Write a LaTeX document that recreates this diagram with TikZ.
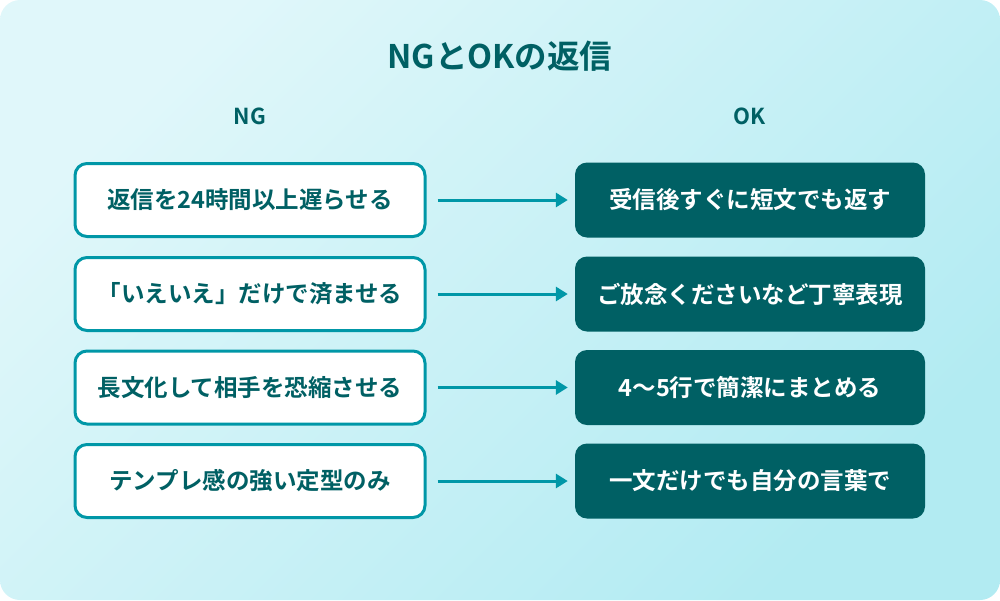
\documentclass[tikz,border=0pt]{standalone}
\usepackage{fontspec}
\setmainfont{Noto Sans CJK JP}[BoldFont={Noto Sans CJK JP Bold}]
\usetikzlibrary{arrows.meta}
\definecolor{bgA}{HTML}{E0F7FA}
\definecolor{bgB}{HTML}{B2EBF2}
\definecolor{darkteal}{HTML}{006064}
\definecolor{teal}{HTML}{0097A7}
\tikzset{
  ngbox/.style={draw=teal, line width=3pt, fill=white, rounded corners=12pt,
    minimum width=350pt, minimum height=73pt, inner sep=0pt,
    text=darkteal, font=\bfseries\fontsize{23.5}{26}\selectfont},
  okbox/.style={fill=darkteal, rounded corners=12pt, draw=none,
    minimum width=350pt, minimum height=75pt, inner sep=0pt,
    text=white, font=\bfseries\fontsize{23.5}{26}\selectfont},
  head/.style={text=darkteal, font=\bfseries\fontsize{22}{26}\selectfont, inner sep=0pt},
  conn/.style={draw=teal, line width=3pt, -{Triangle[length=12pt,width=14pt]},
    shorten <=11pt, shorten >=7pt}
}
\begin{document}
\begin{tikzpicture}[x=1pt,y=-1pt]
\useasboundingbox (0,0) rectangle (1000,600);
\shade[rounded corners=20pt, top color=bgA, bottom color=bgB, shading angle=45]
  (0,0) rectangle (1000,600);
\node[text=darkteal, font=\bfseries\fontsize{32.5}{38}\selectfont, inner sep=0pt] (title) at (500,56) {NGとOKの返信};
\node[head] (hng) at (250,116) {NG};
\node[head] (hok) at (750,116) {OK};
\node[ngbox] (l1) at (250,200) {返信を24時間以上遅らせる};
\node[ngbox] (l2) at (250,294) {「いえいえ」だけで済ませる};
\node[ngbox] (l3) at (250,387.5) {長文化して相手を恐縮させる};
\node[ngbox] (l4) at (250,481) {テンプレ感の強い定型のみ};
\node[okbox] (r1) at (750,200) {受信後すぐに短文でも返す};
\node[okbox] (r2) at (750,294) {ご放念くださいなど丁寧表現};
\node[okbox] (r3) at (750,387.5) {4〜5行で簡潔にまとめる};
\node[okbox] (r4) at (750,481) {一文だけでも自分の言葉で};
\draw[conn] (l1) -- (r1);
\draw[conn] (l2) -- (r2);
\draw[conn] (l3) -- (r3);
\draw[conn] (l4) -- (r4);
\end{tikzpicture}
\end{document}
